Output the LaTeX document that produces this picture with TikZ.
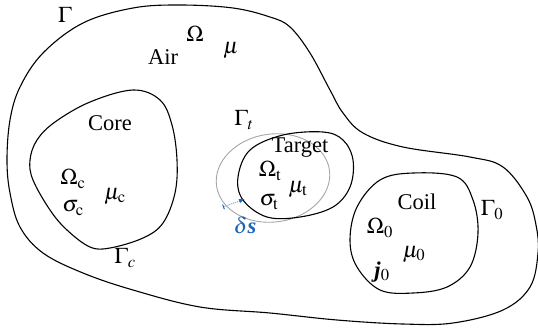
\documentclass[tikz,border=0pt]{standalone}
\usepackage{amsmath, amssymb}
\usepackage{mathptmx}
\usepackage{fontspec}
\setmainfont{Liberation Serif}
\usepackage{tikz}
\usetikzlibrary{arrows.meta}
\definecolor{shiftblue}{RGB}{28,102,186}

\begin{document}
\begin{tikzpicture}[x=1pt, y=-1pt, font=\fontsize{22.5}{26}\selectfont,
  lbl/.style={inner sep=0pt},
  bnd/.style={line width=1.1pt, black}]
  \useasboundingbox (0,0) rectangle (538,333);
  \draw[bnd] plot[smooth cycle, tension=0.6] coordinates {(7,160) (10,193) (20,227) (43,253) (83,273) (133,290) (200,307) (270,313) (337,320) (403,324) (453,323) (503,310) (530,287) (538,253) (536,225) (527,197) (503,167) (470,157) (403,147) (363,133) (343,113) (330,90) (310,53) (290,27) (270,17) (233,8) (180,5) (133,8) (83,23) (43,53) (20,87) (10,120)};
  \draw[bnd] plot[smooth cycle, tension=0.6] coordinates {(30,160) (33,180) (50,210) (67,230) (90,247) (110,248) (143,238) (163,223) (175,193) (177,160) (172,125) (160,100) (133,90) (90,102) (55,122) (37,140)};
  \draw[gray!70, line width=0.9pt, rotate around={8:(273,178)}] (273,178) ellipse [x radius=57pt, y radius=44pt];
  \draw[bnd] plot[smooth cycle, tension=0.6] coordinates {(238,177) (243,200) (267,217) (300,217) (333,207) (350,187) (353,160) (343,140) (323,132) (283,135) (250,150)};
  \draw[bnd] plot[smooth cycle, tension=0.6] coordinates {(413,173) (380,180) (357,207) (350,240) (357,267) (380,290) (413,293) (447,287) (470,267) (478,233) (473,200) (457,177)};
  \node[lbl] (gam) at (65,15) {$\Gamma$};
  \node[lbl] (air) at (163,57) {Air};
  \node[lbl] (om) at (195,34) {$\Omega$};
  \node[lbl] (mu) at (231,50) {$\mu$};
  \node[lbl] (core) at (110,123) {Core};
  \node[lbl] (omc) at (73,179) {$\Omega_{\mathrm{c}}$};
  \node[lbl] (muc) at (115,196) {$\mu_{\mathrm{c}}$};
  \node[lbl] (sigc) at (73,208) {$\sigma_{\mathrm{c}}$};
  \node[lbl] (gamc) at (125,258) {$\Gamma_c$};
  \node[lbl] (gamt) at (244,120) {$\Gamma_t$};
  \node[lbl] (target) at (300,148) {Target};
  \node[lbl] (omt) at (270,171) {$\Omega_{\mathrm{t}}$};
  \node[lbl] (mut) at (298,189) {$\mu_{\mathrm{t}}$};
  \node[lbl] (sigt) at (269,202) {$\sigma_{\mathrm{t}}$};
  \coordinate (sfrom) at (223,207);
  \coordinate (sto) at (245,199);
  \draw[shiftblue!55, densely dotted, line width=1pt, {Bar[width=5pt,shiftblue]}-{Latex[length=6pt,shiftblue]}] (sfrom) -- (sto);
  \node[lbl, text=shiftblue] (ds) at (245,225) {$\delta$\textbf{\itshape s}};
  \node[lbl] (coil) at (417,202) {Coil};
  \node[lbl] (om0) at (380,228) {$\Omega_0$};
  \node[lbl] (mu0) at (414,254) {$\mu_0$};
  \node[lbl] (j0) at (382,272) {\textbf{\itshape j}$_0$};
  \node[lbl] (gam0) at (492,210) {$\Gamma_0$};
\end{tikzpicture}
\end{document}
